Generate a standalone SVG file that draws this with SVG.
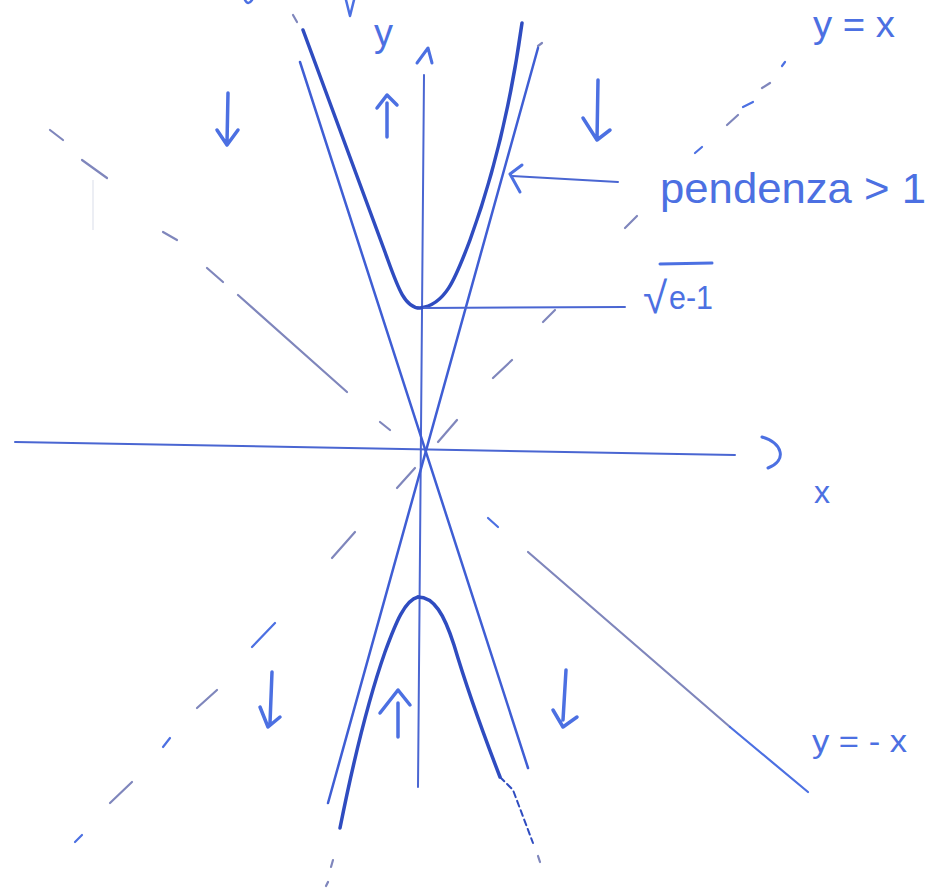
<svg xmlns="http://www.w3.org/2000/svg" width="931" height="893" viewBox="0 0 931 893">
<style>
.ax{stroke:#4a66d2;stroke-width:2;fill:none;stroke-linecap:round}
.as{stroke:#3f5ed4;stroke-width:2.5;fill:none;stroke-linecap:round}
.cv{stroke:#2f4cc0;stroke-width:3.5;fill:none;stroke-linecap:round;stroke-linejoin:round}
.ds{stroke:#7f86bc;stroke-width:2.2;fill:none;stroke-linecap:round}
.db{stroke:#4c70e2;stroke-width:2.2;fill:none;stroke-linecap:round}
.ar{stroke:#4c70e2;stroke-width:3.5;fill:none;stroke-linecap:round;stroke-linejoin:round}
.tx{fill:#4c70e2;font-family:"Liberation Sans",Arial,sans-serif}
</style>
<rect width="931" height="893" fill="#ffffff"/>

<g id="top-fragments">
  <path class="ar" d="M245,0 Q248,6 252,0" style="stroke-width:2.5"/>
  <path class="ar" d="M346,0 L350,16 L354,0" style="stroke-width:2.5"/>
  <path class="ds" d="M293,15 L297,22"/>
  <path class="ds" d="M538,46 L542,43"/>
  <path d="M93,180 L93,230" stroke="#eceef4" stroke-width="2"/>
</g>

<g id="axes">
  <path id="y-axis" class="ax" d="M424,75 L418,787"/>
  <path id="y-arrow" class="ar" d="M417,63 L428,48 L432,63" style="stroke-width:3"/>
  <path id="x-axis" class="ax" d="M15,442 L735,455"/>
  <path id="x-arrow" class="ar" d="M762,437 C782,443 788,460 768,468" style="stroke-width:3"/>
</g>

<g id="asymptotes">
  <path class="as" d="M300,62 L528,768"/>
  <path class="as" d="M538,48 L328,803"/>
</g>

<g id="hyperbola">
  <path id="upper-branch" class="cv" d="M303,30 L385,252 C397,285 404,308 420,308 C445,305 455,280 470,240 C490,185 510,110 522,23"/>
  <path id="lower-branch-left" class="cv" d="M418,597 C405,600 396,622 385,652 C371,692 356,748 340,828"/>
  <path id="lower-branch-right" class="cv" d="M418,597 C434,597 444,614 454,645 C465,682 478,720 500,777"/>
  <path class="cv" d="M500,777 L513,790 L533,843" style="stroke-width:2;stroke-dasharray:6 4"/>
  <path class="ds" d="M538,856 L540,862"/>
  <path class="ds" d="M333,860 L331,867"/>
  <path class="ds" d="M328,882 L326,886"/>
</g>

<g id="bisector-y-eq-minus-x">
  <path class="ds" d="M50,130 L63,140"/>
  <path class="ds" d="M82,160 L107,178"/>
  <path class="ds" d="M163,232 L177,240"/>
  <path class="ds" d="M207,268 L223,282"/>
  <path class="ds" d="M238,295 L347,392"/>
  <path class="ds" d="M380,422 L390,430"/>
  <path class="db" d="M488,518 L498,527"/>
  <path class="ds" d="M528,552 L730,727"/>
  <path class="db" d="M730,727 L808,792"/>
</g>

<g id="bisector-y-eq-x">
  <path class="db" d="M782,66 L785,62"/>
  <path class="ds" d="M762,88 L770,83"/>
  <path class="db" d="M743,107 L753,102"/>
  <path class="ds" d="M727,125 L738,115"/>
  <path class="db" d="M695,153 L702,147"/>
  <path class="ds" d="M625,228 L637,216"/>
  <path class="ds" d="M543,322 L555,310"/>
  <path class="ds" d="M493,378 L512,360"/>
  <path class="ds" d="M438,442 L457,420"/>
  <path class="ds" d="M397,488 L415,468"/>
  <path class="ds" d="M332,558 L355,532"/>
  <path class="db" d="M252,647 L275,623"/>
  <path class="ds" d="M197,708 L217,690"/>
  <path class="db" d="M163,747 L170,738"/>
  <path class="ds" d="M110,803 L132,782"/>
  <path class="db" d="M75,842 L82,835"/>
</g>

<g id="flow-arrows">
  <path class="ar" d="M228,93 L227,143 M217,130 L227,145 L238,130"/>
  <path class="ar" d="M387,103 L387,137 M377,108 L387,95 L397,105"/>
  <path class="ar" d="M598,80 L597,140 M583,118 L597,140 L610,130"/>
  <path class="ar" d="M272,672 L270,723 M260,707 L268,727 L280,717"/>
  <path class="ar" d="M398,703 L398,737 M380,713 L398,690 L410,705"/>
  <path class="ar" d="M566,670 L563,720 M553,710 L563,727 L577,717"/>
</g>

<g id="slope-callout">
  <path class="ax" d="M618,182 L512,176"/>
  <path class="ar" d="M522,165 L510,174 L520,192" style="stroke-width:3"/>
  <text class="tx" x="660" y="203" font-size="42" textLength="266" lengthAdjust="spacingAndGlyphs">pendenza &gt; 1</text>
</g>

<g id="vertex-callout">
  <path class="ax" d="M424,308 L625,307"/>
  <text class="tx" x="643" y="313" font-size="44">√</text>
  <path class="ar" d="M660,264 L712,263" style="stroke-width:3"/>
  <text class="tx" x="669" y="309" font-size="34" textLength="44" lengthAdjust="spacingAndGlyphs">e-1</text>
</g>

<g id="labels">
  <text class="tx" x="374" y="46" font-size="38">y</text>
  <text class="tx" x="814" y="503" font-size="32">x</text>
  <text class="tx" x="813" y="37" font-size="36" textLength="82" lengthAdjust="spacingAndGlyphs">y = x</text>
  <text class="tx" x="812" y="752" font-size="32" textLength="95" lengthAdjust="spacingAndGlyphs">y = - x</text>
</g>
</svg>
